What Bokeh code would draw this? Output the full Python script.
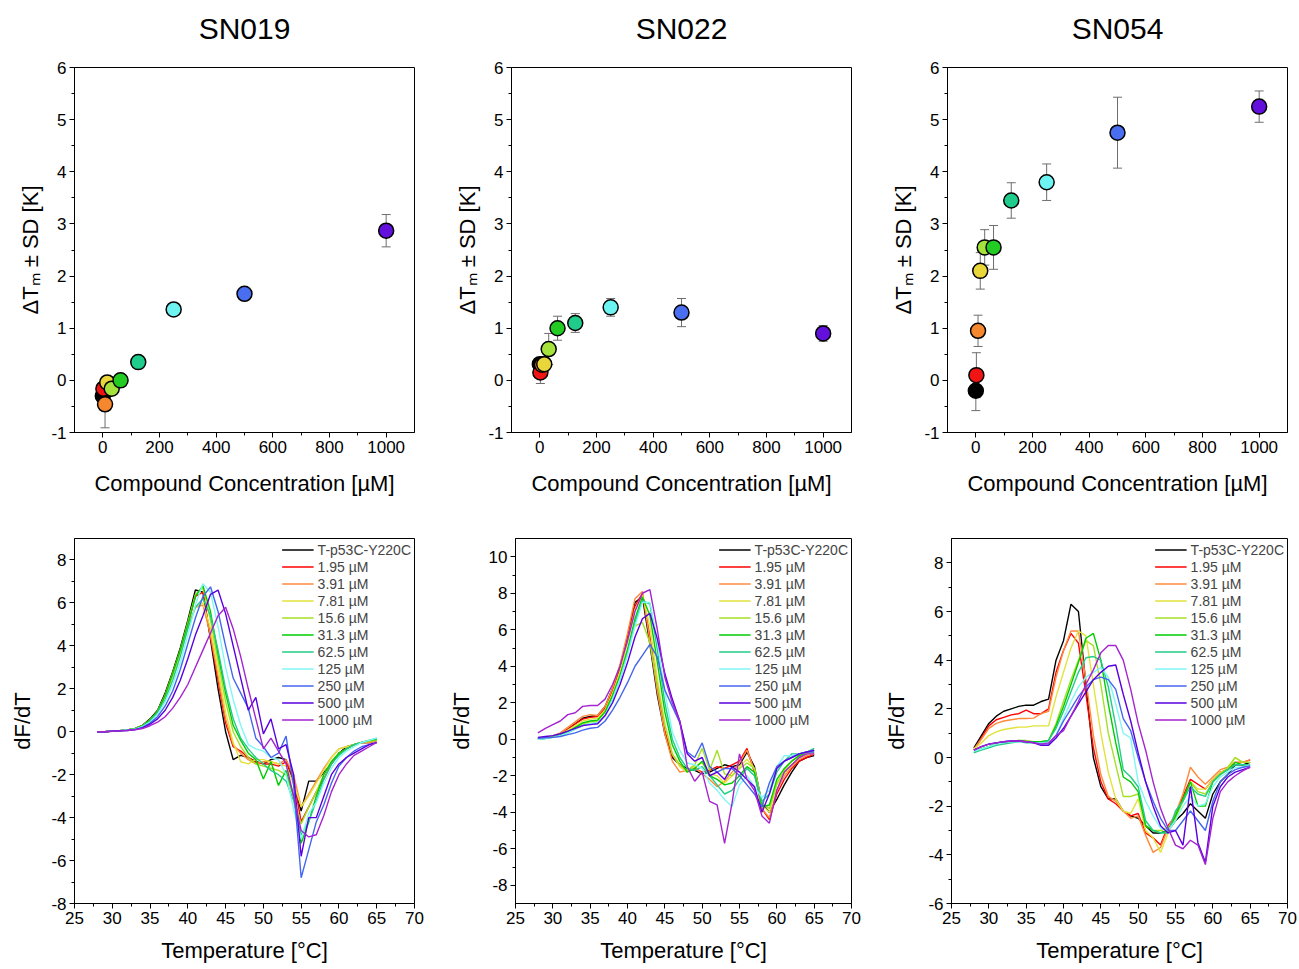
from bokeh.plotting import figure
from bokeh.layouts import column, row
from bokeh.models import Range1d, FixedTicker, Whisker, ColumnDataSource, Legend, LegendItem, TeeHead, Title
from bokeh.embed import file_html
from bokeh.resources import INLINE

FONT = "Liberation Sans"

compounds = ["SN019", "SN022", "SN054"]

# ---- top row: delta Tm vs concentration ----
conc_pts = [0, 1.95, 7.81, 15.6, 31.3, 62.5, 125, 250, 500, 1000]
pt_colors = ["#000000", "#f01414", "#f5882e", "#e8d63a", "#a6e23c",
             "#22cc22", "#1fcc8c", "#6ef3f3", "#4a6ef0", "#6410dc"]
dtm_SN019 = [-0.30, -0.16, -0.46, -0.04, -0.16, 0.00, 0.35, 1.36, 1.66, 2.87]
sd_SN019 = [0.08, 0.06, 0.45, 0.08, 0.06, 0.05, 0.06, 0.07, 0.08, 0.31]
dtm_SN022 = [0.31, 0.15, 0.30, 0.31, 0.60, 1.00, 1.10, 1.40, 1.30, 0.90]
sd_SN022 = [0.10, 0.21, 0.08, 0.14, 0.30, 0.23, 0.18, 0.17, 0.27, 0.15]
dtm_SN054 = [-0.20, 0.10, 0.95, 2.10, 2.55, 2.55, 3.45, 3.80, 4.75, 5.25]
sd_SN054 = [0.38, 0.43, 0.30, 0.35, 0.34, 0.42, 0.34, 0.35, 0.68, 0.30]
dtm_all = [dtm_SN019, dtm_SN022, dtm_SN054]
sd_all = [sd_SN019, sd_SN022, sd_SN054]

# ---- bottom row: melting curves dF/dT ----
temps = [28, 29, 30, 31, 32, 33, 34, 35, 36, 37, 38, 39, 40, 41, 42, 43, 44, 45, 46,
         47, 48, 49, 50, 51, 52, 53, 54, 55, 56, 57, 58, 59, 60, 61, 62, 63, 64, 65]
curve_labels = ["T-p53C-Y220C", "1.95 µM", "3.91 µM", "7.81 µM", "15.6 µM", "31.3 µM",
                "62.5 µM", "125 µM", "250 µM", "500 µM", "1000 µM"]
curve_colors = ["#000000", "#ff0000", "#ff8a3c", "#e2e23a", "#a4e024", "#00cc00",
                "#22cc88", "#80f6f6", "#4466ee", "#5a00e0", "#a424d0"]

sn019_curves = [
    [0.0,0.0,0.03,0.05,0.08,0.15,0.3,0.6,1.0,1.8, 2.8,3.9,5.2,6.6,6.5,4.3,2.0,0.0,-1.3,-1.1, -1.2,-1.4,-1.5,-1.3,-1.2,-1.3,-2.4,-3.7,-2.3,-2.3, -1.9,-1.5,-1.0,-0.7,-0.6,-0.5,-0.5,-0.4],
    [0.0,0.0,0.03,0.05,0.08,0.14,0.28,0.55,0.95,1.7, 2.7,3.8,5.0,6.3,6.5,4.4,2.4,0.4,-0.7,-0.9, -1.2,-1.4,-1.5,-1.5,-1.6,-1.4,-2.2,-4.2,-3.5,-2.8, -2.2,-1.5,-1.0,-0.8,-0.6,-0.5,-0.5,-0.4],
    [0.0,0.0,0.03,0.05,0.08,0.14,0.28,0.55,0.95,1.7, 2.7,3.7,4.9,5.8,5.9,4.5,2.6,0.6,-0.6,-1.0, -1.3,-1.5,-1.4,-1.4,-1.5,-1.3,-2.0,-3.5,-2.9,-2.3, -1.7,-1.2,-0.8,-0.7,-0.6,-0.5,-0.5,-0.4],
    [0.0,0.0,0.03,0.05,0.08,0.14,0.27,0.52,0.9,1.6, 2.6,3.6,4.8,5.8,6.0,4.8,2.9,0.9,-0.5,-1.4, -1.5,-1.3,-1.3,-1.4,-1.5,-1.6,-2.4,-3.5,-3.0,-2.4, -1.8,-1.2,-0.8,-0.7,-0.6,-0.5,-0.45,-0.4],
    [0.0,0.0,0.03,0.05,0.08,0.14,0.28,0.55,0.95,1.7, 2.7,3.8,5.1,6.4,6.7,5.2,3.3,1.4,0.0,-0.7, -1.2,-1.5,-1.6,-1.7,-1.8,-2.0,-3.0,-4.3,-3.5,-2.8, -2.0,-1.4,-1.0,-0.8,-0.6,-0.5,-0.45,-0.4],
    [0.0,0.0,0.03,0.05,0.08,0.14,0.28,0.55,0.95,1.7, 2.7,3.8,5.0,6.3,6.8,5.6,3.6,1.8,0.3,-0.4, -1.0,-1.3,-2.2,-1.4,-2.5,-1.8,-3.0,-5.2,-4.2,-3.0, -2.0,-1.4,-1.0,-0.8,-0.6,-0.5,-0.4,-0.35],
    [0.0,0.0,0.03,0.05,0.08,0.13,0.25,0.5,0.9,1.5, 2.4,3.5,4.8,5.8,6.2,5.4,3.8,2.0,0.6,-0.3, -0.8,-1.2,-1.5,-1.8,-2.0,-2.3,-3.2,-4.8,-4.2,-3.2, -2.2,-1.5,-1.1,-0.8,-0.6,-0.5,-0.4,-0.3],
    [0.0,0.0,0.03,0.05,0.08,0.12,0.24,0.45,0.8,1.4, 2.2,3.2,4.5,5.9,6.9,6.5,4.9,3.0,1.5,0.3, -0.6,-0.8,-0.9,-1.2,-1.3,-2.0,-3.6,-5.0,-3.8,-3.3, -2.4,-1.7,-1.2,-0.9,-0.7,-0.5,-0.4,-0.3],
    [0.0,0.0,0.03,0.05,0.07,0.1,0.2,0.4,0.7,1.2, 1.9,2.9,4.1,5.3,6.3,6.75,5.6,4.0,2.5,1.8, 1.1,-0.3,-0.7,-1.2,-1.0,-0.2,-2.5,-6.8,-5.5,-4.2, -3.4,-2.4,-1.6,-1.2,-0.9,-0.7,-0.6,-0.5],
    [0.0,0.0,0.02,0.04,0.06,0.1,0.18,0.35,0.6,1.0, 1.6,2.4,3.4,4.5,5.4,6.4,6.6,5.5,4.0,2.5, 1.0,1.6,-0.1,0.6,-0.8,-0.6,-2.0,-5.8,-4.0,-4.0, -3.0,-2.0,-1.5,-1.2,-1.0,-0.8,-0.6,-0.5],
    [0.0,0.0,0.02,0.04,0.06,0.09,0.15,0.28,0.45,0.7, 1.1,1.6,2.2,3.0,3.8,4.6,5.4,5.8,4.8,3.5, 2.0,0.6,-0.8,-0.3,-0.9,-1.5,-3.0,-4.6,-4.9,-4.8, -3.9,-2.8,-2.0,-1.5,-1.1,-0.9,-0.7,-0.5],
]

sn022_curves = [
    [0.05,0.08,0.15,0.3,0.55,0.85,1.15,1.25,1.3,1.8, 2.8,4.0,5.6,7.5,7.8,5.2,2.4,0.3,-1.0,-1.4, -1.6,-1.7,-1.9,-1.8,-1.6,-1.4,-1.5,-1.4,-0.7,-1.5, -3.5,-4.0,-3.3,-2.5,-1.8,-1.2,-1.0,-0.9],
    [0.05,0.08,0.15,0.3,0.55,0.85,1.1,1.2,1.25,1.7, 2.7,3.9,5.5,7.3,8.0,5.6,2.8,0.5,-0.9,-1.4, -1.7,-1.6,-1.8,-1.7,-1.5,-1.6,-1.4,-1.2,-0.5,-1.8, -3.8,-4.4,-3.0,-2.2,-1.6,-1.2,-1.0,-0.8],
    [0.05,0.1,0.18,0.35,0.65,0.95,1.25,1.35,1.3,1.8, 2.8,4.1,5.8,7.7,8.1,5.4,2.6,0.3,-1.2,-1.8, -1.7,-1.5,-1.9,-2.2,-2.6,-2.3,-1.8,-1.3,-0.6,-1.7, -3.8,-4.3,-2.8,-2.0,-1.5,-1.1,-0.9,-0.8],
    [0.05,0.08,0.15,0.28,0.5,0.75,1.0,1.1,1.15,1.6, 2.5,3.7,5.3,7.1,7.9,6.2,3.3,0.8,-0.8,-1.5, -1.8,-1.5,-1.3,-1.9,-2.0,-2.4,-2.0,-1.5,-1.1,-1.6, -3.6,-4.0,-2.5,-1.9,-1.4,-1.0,-0.8,-0.7],
    [0.0,0.05,0.12,0.22,0.4,0.6,0.85,0.95,1.0,1.5, 2.4,3.5,4.9,6.2,6.4,5.3,3.0,0.8,-0.8,-1.4, -1.7,-1.4,-0.5,-1.7,-0.6,-1.9,-2.0,-1.6,-1.3,-1.6, -3.5,-3.8,-2.4,-1.7,-1.2,-0.9,-0.8,-0.7],
    [0.0,0.05,0.12,0.22,0.4,0.65,0.9,1.0,1.05,1.5, 2.4,3.5,4.9,6.6,7.8,6.8,4.2,1.5,-0.3,-1.2, -1.8,-1.6,-1.2,-2.0,-2.2,-2.5,-2.4,-2.0,-1.5,-1.8, -3.7,-3.6,-2.2,-1.6,-1.2,-0.9,-0.7,-0.6],
    [0.0,0.04,0.1,0.2,0.35,0.55,0.75,0.85,0.9,1.3, 2.2,3.3,4.7,6.4,7.6,7.4,4.9,2.0,0.0,-1.0, -1.6,-1.7,-1.5,-2.0,-2.5,-3.0,-2.8,-2.2,-1.6,-2.0, -3.4,-3.0,-1.8,-1.2,-0.8,-0.8,-0.7,-0.5],
    [0.0,0.04,0.1,0.2,0.35,0.55,0.75,0.85,0.9,1.3, 2.2,3.3,4.6,6.2,7.5,7.5,5.4,2.6,0.4,-0.6, -1.3,-1.4,-1.6,-2.4,-2.8,-3.3,-3.7,-2.5,-2.0,-2.6, -3.2,-2.8,-1.5,-0.9,-0.9,-0.8,-0.7,-0.6],
    [0.05,0.08,0.1,0.15,0.25,0.35,0.5,0.6,0.65,1.0, 1.6,2.3,3.1,4.0,4.6,5.2,4.5,2.7,1.8,0.9, -0.7,-1.0,-0.2,-1.5,-1.8,-1.6,-1.6,-2.0,-2.5,-3.0, -3.7,-2.4,-1.5,-1.2,-1.0,-0.8,-0.7,-0.7],
    [0.1,0.15,0.2,0.3,0.45,0.6,0.75,0.8,0.85,1.3, 2.0,3.0,4.2,5.6,6.6,6.9,5.5,3.6,2.2,1.0, -0.8,-1.2,-1.0,-2.0,-1.8,-2.2,-1.5,-1.8,-2.2,-2.6, -4.0,-3.0,-1.6,-1.2,-1.0,-0.8,-0.7,-0.6],
    [0.35,0.6,0.8,1.0,1.35,1.45,1.8,1.85,1.85,2.2, 3.0,4.0,5.4,7.0,8.0,8.2,6.0,3.4,2.0,1.0, -1.5,-2.3,-1.8,-3.4,-3.6,-5.7,-3.5,-0.8,-2.2,-2.8, -4.2,-4.6,-2.8,-1.8,-1.4,-1.0,-0.8,-0.8],
]

sn054_curves = [
    [0.4,0.9,1.4,1.7,1.9,2.0,2.1,2.15,2.15,2.3, 2.4,4.0,4.8,6.3,6.0,3.0,0.0,-1.2,-1.7,-1.7, -2.2,-2.4,-2.5,-2.8,-3.1,-3.1,-3.0,-2.6,-2.3,-1.9, -2.2,-2.5,-1.5,-1.0,-0.7,-0.3,-0.3,-0.2],
    [0.3,0.8,1.3,1.55,1.65,1.75,1.8,1.95,1.8,1.8, 2.0,3.5,4.4,5.1,4.7,2.6,0.4,-1.0,-1.7,-1.9, -2.2,-2.4,-2.3,-3.1,-3.3,-3.6,-2.8,-2.4,-1.6,-0.9, -1.1,-1.3,-0.9,-0.6,-0.5,-0.2,-0.2,-0.1],
    [0.35,0.75,1.2,1.4,1.5,1.55,1.6,1.6,1.62,1.8, 1.9,3.3,4.4,5.2,5.2,3.2,0.9,-0.7,-1.6,-1.8, -2.2,-2.5,-2.4,-3.2,-3.9,-3.7,-2.9,-2.3,-1.5,-0.4, -0.8,-1.1,-0.8,-0.5,-0.4,-0.2,-0.2,-0.1],
    [0.35,0.6,0.9,1.05,1.15,1.2,1.25,1.25,1.3,1.3, 1.3,2.5,3.5,4.5,5.2,5.0,3.0,1.0,-0.6,-1.7, -2.2,-2.3,-1.7,-3.0,-3.3,-3.9,-3.1,-2.4,-1.8,-1.0, -1.3,-1.3,-0.9,-0.6,-0.5,0.0,-0.2,-0.2],
    [0.25,0.35,0.45,0.55,0.6,0.65,0.7,0.7,0.65,0.65, 0.7,1.4,2.3,3.2,4.0,4.8,4.6,3.0,1.0,-0.3, -1.6,-1.6,-1.5,-2.8,-3.0,-3.0,-2.9,-2.5,-1.8,-1.0, -1.4,-1.5,-1.0,-0.7,-0.4,0.0,-0.2,-0.2],
    [0.2,0.35,0.45,0.55,0.6,0.65,0.7,0.65,0.65,0.65, 0.7,1.3,2.1,3.0,3.9,4.9,5.1,4.0,2.2,0.6, -0.8,-1.0,-1.4,-2.8,-3.0,-3.1,-3.0,-2.4,-1.7,-1.0, -2.0,-2.0,-1.0,-0.7,-0.5,-0.2,-0.3,-0.3],
    [0.2,0.3,0.4,0.5,0.55,0.6,0.65,0.6,0.6,0.6, 0.7,1.2,1.9,2.7,3.5,4.1,4.15,4.0,2.9,1.3, -0.5,-0.8,-1.2,-2.6,-3.0,-3.1,-3.1,-2.2,-1.8,-1.2, -1.5,-1.6,-1.0,-0.7,-0.5,-0.3,-0.3,-0.3],
    [0.25,0.35,0.45,0.55,0.6,0.65,0.65,0.65,0.6,0.6, 0.6,0.9,1.6,2.3,2.9,3.3,3.5,3.7,3.3,2.2, 1.0,0.8,-1.0,-1.8,-2.4,-2.9,-3.0,-2.6,-2.0,-1.6, -2.0,-1.9,-1.2,-0.8,-0.6,-0.4,-0.4,-0.3],
    [0.3,0.45,0.55,0.6,0.65,0.68,0.68,0.65,0.62,0.55, 0.55,0.9,1.5,2.0,2.5,2.9,3.2,3.3,3.2,2.8, 1.6,1.1,0.0,-1.0,-1.8,-2.5,-3.0,-3.0,-2.6,-2.2, -2.6,-3.0,-1.8,-1.0,-0.7,-0.5,-0.4,-0.35],
    [0.3,0.45,0.55,0.6,0.65,0.68,0.68,0.65,0.6,0.5, 0.5,0.8,1.2,1.7,2.2,2.7,3.2,3.5,3.75,3.8, 2.6,1.5,0.2,-1.0,-2.0,-2.8,-3.1,-3.0,-3.6,-1.2, -3.5,-4.3,-2.0,-1.2,-0.8,-0.6,-0.5,-0.4],
    [0.3,0.45,0.55,0.6,0.65,0.68,0.68,0.65,0.6,0.55, 0.6,0.9,1.1,1.7,2.3,3.0,3.6,4.3,4.6,4.6, 4.0,2.8,1.4,0.3,-1.0,-2.1,-2.9,-3.6,-3.75,-3.4, -3.6,-4.4,-2.5,-1.4,-1.0,-0.75,-0.55,-0.4],
]
curves_all = [sn019_curves, sn022_curves, sn054_curves]

top_xticks = [0, 200, 400, 600, 800, 1000]
top_yticks = [-1, 0, 1, 2, 3, 4, 5, 6]
bot_xticks = [25, 30, 35, 40, 45, 50, 55, 60, 65, 70]
bot_yranges = [(-8, 9), (-9, 11), (-6, 9)]
bot_yticks = [[-8, -6, -4, -2, 0, 2, 4, 6, 8],
              [-8, -6, -4, -2, 0, 2, 4, 6, 8, 10],
              [-6, -4, -2, 0, 2, 4, 6, 8]]
dfdt_standoff = [13, 12, 16]

widths = [445, 436, 416]
lefts = [74, 66, 66]
rights = [31, 30, 10]


def minors(ticks):
    out = []
    for a, b in zip(ticks[:-1], ticks[1:]):
        out.append((a + b) / 2)
    return out


def style(p, xt, yt, xstand):
    p.outline_line_color = "black"
    p.outline_line_width = 1
    p.outline_line_alpha = 1
    p.xgrid.visible = False
    p.ygrid.visible = False
    p.background_fill_color = "white"
    p.border_fill_color = "white"
    p.xaxis.ticker = FixedTicker(ticks=xt, minor_ticks=minors(xt))
    p.yaxis.ticker = FixedTicker(ticks=yt, minor_ticks=minors(yt))
    p.xaxis[0].major_label_overrides = {t: str(t) for t in xt}
    p.yaxis[0].major_label_overrides = {t: str(t) for t in yt}
    for ax in (p.xaxis[0], p.yaxis[0]):
        ax.major_label_text_font = FONT
        ax.major_label_text_font_size = "17px"
        ax.major_label_text_color = "black"
        ax.axis_label_text_font = FONT
        ax.axis_label_text_font_size = "22px"
        ax.axis_label_text_font_style = "normal"
        ax.axis_label_text_color = "black"
        ax.axis_line_color = "black"
        ax.major_tick_line_color = "black"
        ax.minor_tick_line_color = "black"
        ax.major_tick_in = 0
        ax.major_tick_out = 5
        ax.minor_tick_in = 0
        ax.minor_tick_out = 3
        ax.major_label_standoff = 3
    p.xaxis[0].axis_label_standoff = xstand
    p.yaxis[0].axis_label_standoff = 5


top_figs = []
bot_figs = []
for i, name in enumerate(compounds):
    p = figure(width=widths[i], height=498, x_range=Range1d(-100, 1100), y_range=Range1d(-1, 6),
               output_backend="svg", toolbar_location=None,
               min_border_left=lefts[i], min_border_right=rights[i], min_border_top=67, min_border_bottom=65)
    style(p, top_xticks, top_yticks, 15)
    # spacer between frame and title
    p.add_layout(Title(text=" ", text_font_size="10px", standoff=8), "above")
    p.title.text = name
    p.title.align = "center"
    p.title.text_font = FONT
    p.title.text_font_size = "30px"
    p.title.text_font_style = "normal"
    p.title.text_color = "black"
    p.title.standoff = 4
    p.xaxis[0].axis_label = "Compound Concentration [µM]"
    p.yaxis[0].axis_label = "ΔTₘ ± SD [K]"
    up = [v + s for v, s in zip(dtm_all[i], sd_all[i])]
    lo = [v - s for v, s in zip(dtm_all[i], sd_all[i])]
    src = ColumnDataSource(dict(x=conc_pts, y=dtm_all[i], upper=up, lower=lo, c=pt_colors))
    w = Whisker(source=src, base="x", upper="upper", lower="lower", line_color="#6e6e6e", line_width=1,
                upper_head=TeeHead(size=9, line_color="#6e6e6e", line_width=1),
                lower_head=TeeHead(size=9, line_color="#6e6e6e", line_width=1))
    p.add_layout(w)
    p.scatter("x", "y", source=src, size=15, fill_color="c", line_color="black", line_width=1.5)
    top_figs.append(p)

    q = figure(width=widths[i], height=469, x_range=Range1d(25, 70), y_range=Range1d(*bot_yranges[i]),
               output_backend="svg", toolbar_location=None,
               min_border_left=lefts[i], min_border_right=rights[i], min_border_top=40, min_border_bottom=64)
    style(q, bot_xticks, bot_yticks[i], 11)
    q.xaxis[0].axis_label = "Temperature [°C]"
    q.yaxis[0].axis_label = "dF/dT"
    q.yaxis[0].axis_label_standoff = dfdt_standoff[i]
    items = []
    for vals, col, lab in zip(curves_all[i], curve_colors, curve_labels):
        r = q.line(temps, vals, line_color=col, line_width=1.4)
        items.append(LegendItem(label=lab, renderers=[r]))
    leg = Legend(items=items, location="top_right", label_text_font=FONT, label_text_font_size="14px",
                 glyph_width=32, glyph_height=17, label_height=17, spacing=0, padding=3, margin=0,
                 label_standoff=4, border_line_alpha=0, background_fill_alpha=0)
    q.add_layout(leg)
    bot_figs.append(q)

layout = column(row(*top_figs), row(*bot_figs))
open("out.html", "w").write(file_html(layout, INLINE))
